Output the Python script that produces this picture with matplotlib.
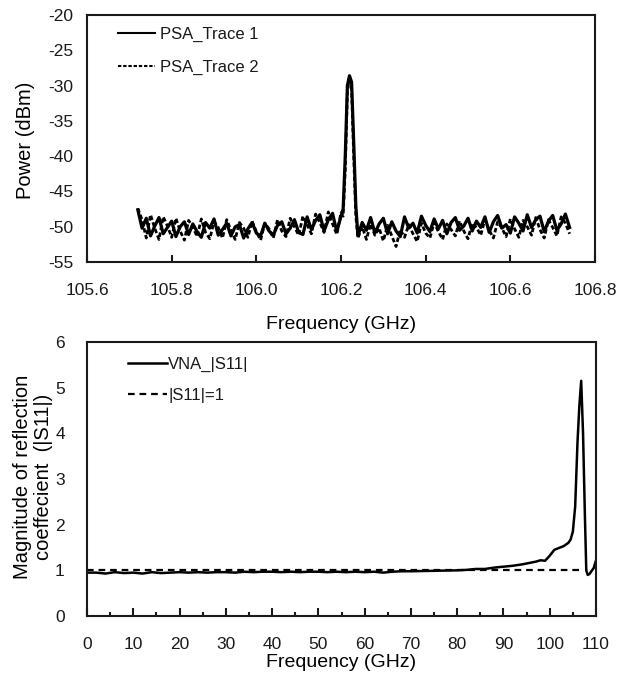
import numpy as np
import matplotlib
matplotlib.use("Agg")
import matplotlib.pyplot as plt
from matplotlib.ticker import MultipleLocator

plt.rcParams['font.family'] = ['Liberation Sans', 'DejaVu Sans']
plt.rcParams['axes.unicode_minus'] = False
plt.rcParams['text.color'] = '#1a1a1a'
plt.rcParams['xtick.color'] = '#1a1a1a'
plt.rcParams['ytick.color'] = '#1a1a1a'

# spectrum analyser traces (GHz, dBm)
psa_freq_lo = np.round(np.linspace(105.72, 106.20, 49), 3)
psa_freq_pk = [106.205, 106.21, 106.215, 106.22, 106.225, 106.23, 106.235]
psa_freq_hi = np.round(np.linspace(106.24, 106.74, 51), 3)

trace1_lo = [-47.6, -50.2, -48.8, -51.3, -49.9, -48.7, -51.0, -50.1, -49.2, -51.4,
             -50.0, -49.3, -51.1, -49.6, -50.7, -51.5, -49.4, -50.2, -48.9, -51.2,
             -50.4, -49.5, -51.3, -50.0, -49.7, -51.6, -50.3, -49.4, -50.9, -51.3,
             -49.5, -50.6, -51.2, -49.8, -49.3, -51.0, -50.2, -49.0, -50.8, -51.1,
             -48.6, -50.4, -49.1, -48.3, -50.6, -49.0, -48.1, -50.7, -48.5]
trace1_pk = [-47.5, -40.0, -30.0, -28.6, -29.5, -38.0, -47.0]
trace1_hi = [-51.3, -49.4, -50.5, -48.7, -50.9, -49.6, -48.8, -51.0, -49.3, -50.6,
             -51.4, -48.6, -50.2, -49.5, -50.9, -48.5, -49.8, -50.7, -48.9, -50.3,
             -49.1, -51.0, -49.4, -48.7, -50.5, -49.9, -48.8, -50.6, -49.2, -50.1,
             -48.6, -50.8, -49.3, -48.4, -50.2, -49.7, -50.9, -48.6, -49.5, -50.6,
             -48.3, -50.1, -49.0, -48.5, -50.7, -49.2, -48.4, -50.5, -49.6, -48.2, -50.1]

trace2_lo = [-47.4, -49.0, -51.6, -48.3, -50.2, -51.8, -48.6, -49.9, -51.5, -48.8,
             -50.6, -51.9, -49.1, -50.0, -51.4, -48.9, -50.8, -51.7, -49.3, -50.1,
             -51.6, -49.0, -50.5, -51.8, -49.4, -50.2, -51.5, -49.2, -50.7, -51.9,
             -49.5, -50.3, -51.6, -49.0, -50.6, -51.4, -48.8, -50.0, -51.2, -48.5,
             -49.7, -51.0, -48.2, -49.4, -50.8, -47.9, -49.6, -51.1, -48.0]
trace2_pk = [-48.5, -42.0, -31.0, -28.8, -30.5, -40.0, -48.5]
trace2_hi = [-51.6, -50.0, -51.8, -49.6, -51.2, -50.2, -52.0, -49.8, -51.3, -52.8,
             -50.4, -51.5, -49.7, -51.0, -52.1, -49.5, -50.9, -51.6, -49.4, -50.7,
             -51.8, -49.6, -50.4, -51.3, -49.2, -50.6, -51.7, -49.5, -50.1, -51.2,
             -49.0, -50.5, -51.6, -49.3, -50.2, -51.4, -48.9, -50.3, -51.5, -49.1,
             -50.0, -51.2, -48.7, -50.4, -51.6, -49.0, -50.1, -51.3, -48.6, -49.5, -51.0]

# VNA |S11| (GHz, magnitude)
s11_freq = [0, 2, 4, 6, 8, 10, 12, 14, 16, 18, 20, 22, 24, 26, 28, 30, 32, 34, 36, 38,
            40, 42, 44, 46, 48, 50, 52, 54, 56, 58, 60, 62, 64, 66, 68, 70, 75, 80,
            82, 84, 86, 88, 90, 92, 94, 96, 97, 98, 99, 100, 101, 102, 103, 104,
            104.5, 105, 105.5, 106, 106.4, 106.8, 107.2, 107.6, 107.9, 108.2, 108.6,
            109, 109.5, 110]
s11_mag = [0.95, 0.95, 0.93, 0.96, 0.94, 0.95, 0.93, 0.96, 0.94, 0.95, 0.96, 0.95,
           0.96, 0.95, 0.96, 0.96, 0.95, 0.97, 0.96, 0.97, 0.97, 0.96, 0.97, 0.96,
           0.97, 0.97, 0.96, 0.97, 0.96, 0.97, 0.96, 0.97, 0.95, 0.97, 0.98, 0.98,
           0.99, 1.0, 1.01, 1.03, 1.03, 1.06, 1.08, 1.10, 1.13, 1.17, 1.19, 1.22,
           1.21, 1.32, 1.45, 1.49, 1.53, 1.60, 1.67, 1.85, 2.4, 3.8, 4.6, 5.15, 4.0,
           2.2, 1.0, 0.90, 0.92, 0.98, 1.05, 1.22]
unity_freq = [0, 107]
unity_mag = [1, 1]

psa_freq = np.concatenate([psa_freq_lo, psa_freq_pk, psa_freq_hi])
trace1 = np.concatenate([trace1_lo, trace1_pk, trace1_hi])
trace2 = np.concatenate([trace2_lo, trace2_pk, trace2_hi])

fig = plt.figure(figsize=(6.18, 6.93), dpi=100)
ax1 = fig.add_axes([0.1408, 0.6219, 0.822, 0.3564])
ax2 = fig.add_axes([0.1408, 0.1111, 0.8236, 0.3954])

# top: spectrum
ax1.plot(psa_freq, trace2, color='black', lw=2.0, ls=(0, (1.6, 0.9)), label='PSA_Trace 2')
ax1.plot(psa_freq, trace1, color='black', lw=2.3, label='PSA_Trace 1')
ax1.set_xlim(105.6, 106.8)
ax1.set_ylim(-55, -20)
ax1.xaxis.set_major_locator(MultipleLocator(0.2))
ax1.xaxis.set_major_formatter(plt.FormatStrFormatter('%.1f'))
ax1.yaxis.set_major_locator(MultipleLocator(5))
ax1.tick_params(axis='x', direction='in', length=5, width=1.5, pad=15, labelsize=12.5)
ax1.tick_params(axis='y', length=0, pad=10, labelsize=12.5)
ax1.set_xlabel('Frequency (GHz)', fontsize=14)
ax1.set_ylabel('Power (dBm)', fontsize=14.5)
ax1.xaxis.set_label_coords(0.5, -0.251)
ax1.xaxis.label.set_va('center')
ax1.yaxis.set_label_coords(-0.122, 0.494)
ax1.yaxis.label.set_va('center')
h, l = ax1.get_legend_handles_labels()
leg1 = ax1.legend(h[::-1], l[::-1], loc='upper left', bbox_to_anchor=(0.061, 0.953),
                  frameon=False, fontsize=12, borderpad=0, borderaxespad=0,
                  handlelength=2.2, handletextpad=0.3, labelspacing=1.1)
for ln in leg1.get_lines():
    ln.set_linewidth(1.5)

# bottom: |S11|
ax2.plot(s11_freq, s11_mag, color='black', lw=1.8, label='VNA_|S11|')
ax2.plot(unity_freq, unity_mag, color='black', lw=1.6, ls=(0, (3, 2.2)), label='|S11|=1')
ax2.set_xlim(0, 110)
ax2.set_ylim(0, 6)
ax2.xaxis.set_major_locator(MultipleLocator(10))
ax2.xaxis.set_minor_locator(MultipleLocator(5))
ax2.yaxis.set_major_locator(MultipleLocator(1))
ax2.tick_params(axis='x', which='major', direction='in', length=6, width=1.5, pad=15, labelsize=12.5)
ax2.tick_params(axis='x', which='minor', direction='in', length=3, width=1.5)
ax2.tick_params(axis='y', length=0, pad=16, labelsize=12.5)
ax2.set_xlabel('Frequency (GHz)', fontsize=14)
ax2.set_ylabel('Magnitude of reflection\ncoeffecient  (|S11|)', fontsize=14.5, linespacing=1.1)
ax2.xaxis.set_label_coords(0.5, -0.168)
ax2.xaxis.label.set_va('center')
ax2.yaxis.set_label_coords(-0.106, 0.507)
ax2.yaxis.label.set_va('center')
ax2.legend(loc='upper left', bbox_to_anchor=(0.081, 0.946), frameon=False, fontsize=12,
           borderpad=0, borderaxespad=0, handlelength=2.3, handletextpad=0.1,
           labelspacing=0.98)

for ax in (ax1, ax2):
    for s in ax.spines.values():
        s.set_linewidth(1.5)
        s.set_color('#1a1a1a')

fig.savefig('out.png', dpi=100)
